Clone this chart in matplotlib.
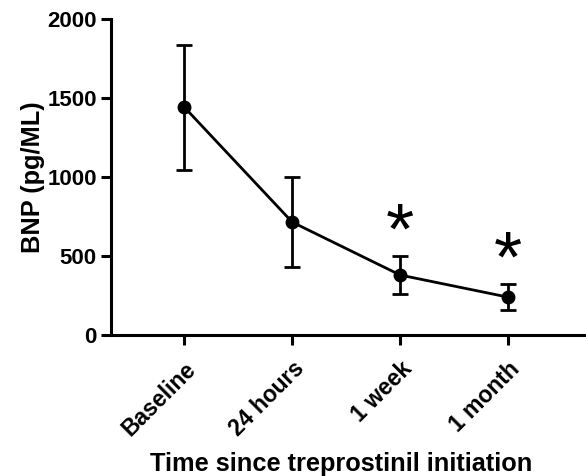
import numpy as np
import matplotlib.pyplot as plt

plt.rcParams['font.family'] = ['Liberation Sans', 'DejaVu Sans']
plt.rcParams['font.weight'] = 'bold'

# ---------- Data ----------
timepoints = ["Baseline", "24 hours", "1 week", "1 month"]
bnp_mean = [1443, 715, 380, 240]
bnp_upper = [1835, 1000, 500, 323]
bnp_lower = [1044, 430, 260, 158]
significant = [False, False, True, True]

x = np.arange(len(timepoints))
mean = np.array(bnp_mean)
yerr = [mean - np.array(bnp_lower), np.array(bnp_upper) - mean]

fig = plt.figure(figsize=(5.86, 4.76), dpi=100)
ax = fig.add_axes([0.189, 0.296, 0.811, 0.664])

ax.errorbar(x, mean, yerr=yerr, color="black", lw=2, marker="o", ms=9,
            capsize=6, capthick=2, elinewidth=2)

# significance markers above the whiskers
for xi, up, sig in zip(x, bnp_upper, significant):
    if sig:
        ax.text(xi, up + 180, "*", ha="center", va="center_baseline",
                fontsize=52, fontweight="normal")

ax.set_xlim(-0.68, 3.72)
ax.set_ylim(0, 2000)
ax.set_yticks([0, 500, 1000, 1500, 2000])
ax.set_xticks(x)
ax.set_xticklabels(timepoints, rotation=45, ha="right", rotation_mode="anchor")

for side in ["top", "right"]:
    ax.spines[side].set_visible(False)
for side in ["left", "bottom"]:
    ax.spines[side].set_linewidth(2.2)
ax.spines["left"].set_bounds(0, 2000)

ax.tick_params(axis="both", direction="out", length=7, width=2.2, labelsize=16,
               pad=3)
ax.tick_params(axis="x", labelsize=16.5, pad=9)
ax.set_ylabel("BNP (pg/ML)", fontsize=18.3, fontweight="bold", labelpad=2)
fig.text(0.583, 0.011, "Time since treprostinil initiation", ha="center",
         va="baseline", fontsize=18.3, fontweight="bold")

fig.savefig("out.png", dpi=100)
